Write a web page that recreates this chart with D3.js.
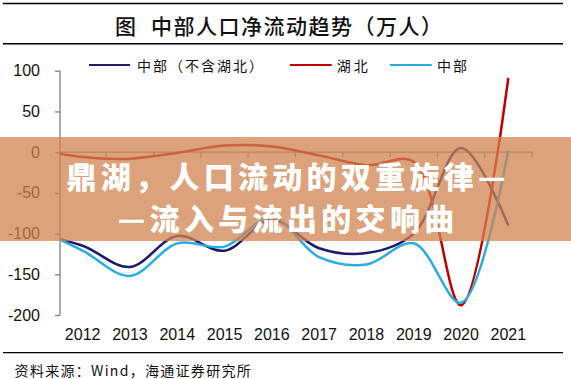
<!DOCTYPE html>
<html>
<head>
<meta charset="utf-8">
<script src="https://cdn.jsdelivr.net/npm/d3@7"></script>
<style>
  html, body { margin: 0; padding: 0; background: #fff; }
  svg { display: block; }
</style>
</head>
<body>
<svg id="chart" width="571" height="379"></svg>
<script>
// ---- data ----
const years = [2011, 2012, 2013, 2014, 2015, 2016, 2017, 2018, 2019, 2020, 2021];
const categories = ["2012", "2013", "2014", "2015", "2016", "2017", "2018", "2019", "2020", "2021"];
const centralExHubei = [-100, -115, -141, -103, -121, -83, -118, -124, -100, 5, -90];
const hubei = [4, -6, -8, -1, 8, 7, -4, -16, -12, -188, 91];
const central = [-93, -121, -152, -112, -116, -80, -129, -138, -112, -185, 2];
const yTicks = [100, 50, 0, -50, -100, -150, -200];
const seriesNames = ["中部（不含湖北）", "湖北", "中部"];
const seriesColors = ["#1b1a6e", "#c00000", "#2aace2"];
const titleMark = "图";
const titleText = "中部人口净流动趋势（万人）";
const sourceText = "资料来源：Wind，海通证券研究所";
const bannerLines = ["鼎湖，人口流动的双重旋律—", "—流入与流出的交响曲"];

const svg = d3.select("#chart");
const numFont = "'Liberation Sans', Arial, sans-serif";
const cjkFont = "'Noto Sans CJK SC', 'Noto Sans', sans-serif";

// ---- scales ----
const band = d3.scaleBand().domain(categories).range([59, 532]).paddingInner(0).paddingOuter(0);
const x = d3.scaleLinear().domain([2011.5, 2021.5]).range([59, 532]);
const y = d3.scaleLinear().domain([-200, 100]).range([315, 70.7]);

// ---- title ----
svg.append("line").attr("x1", 3).attr("x2", 563).attr("y1", 3.6).attr("y2", 3.6)
  .attr("stroke", "#000").attr("stroke-width", 1.5);
svg.append("line").attr("x1", 3).attr("x2", 563).attr("y1", 43.7).attr("y2", 43.7)
  .attr("stroke", "#000").attr("stroke-width", 1.5);
svg.append("text").attr("x", 115).attr("y", 24.6).attr("dominant-baseline", "central")
  .attr("font-family", cjkFont).attr("font-weight", 500).attr("font-size", 21).attr("fill", "#111").text(titleMark);
svg.append("text").attr("x", 151).attr("y", 24.6).attr("dominant-baseline", "central")
  .attr("font-family", cjkFont).attr("font-weight", 500).attr("font-size", 21).attr("fill", "#111")
  .attr("textLength", 291).attr("lengthAdjust", "spacing").text(titleText);

// ---- legend ----
const legendItems = [
  { lx1: 89, lx2: 130, tx: 137, tl: 126 },
  { lx1: 290, lx2: 331.7, tx: 336.7, tl: 31 },
  { lx1: 390, lx2: 431.7, tx: 437, tl: 30 }
];
legendItems.forEach((li, i) => {
  svg.append("line").attr("x1", li.lx1).attr("x2", li.lx2).attr("y1", 65).attr("y2", 65)
    .attr("stroke", seriesColors[i]).attr("stroke-width", 2);
  svg.append("text").attr("x", li.tx).attr("y", 65).attr("dominant-baseline", "central")
    .attr("font-family", cjkFont).attr("font-size", 14).attr("fill", "#111")
    .attr("textLength", li.tl).attr("lengthAdjust", "spacing").text(seriesNames[i]);
});

// ---- y axis ----
const yAxis = svg.append("g").attr("transform", "translate(60,0)")
  .call(d3.axisLeft(y).tickValues(yTicks).tickSize(5).tickPadding(15).tickFormat(d3.format("d")));
yAxis.select(".domain").attr("stroke", "#808080").attr("stroke-width", 1.3).attr("d", `M0,${y(100)}V${y(-200)}`);
yAxis.selectAll(".tick line").attr("stroke", "#808080").attr("stroke-width", 1.3);
yAxis.selectAll(".tick text").attr("font-family", numFont).attr("font-size", 16).attr("fill", "#111")
  .text(d => d < 0 ? "-" + Math.abs(d) : d);

// ---- x axis (at y = 0) ----
const xAxisG = svg.append("g").attr("transform", `translate(0,${y(0)})`);
xAxisG.append("line").attr("x1", 59).attr("x2", 533).attr("y1", 0).attr("y2", 0)
  .attr("stroke", "#808080").attr("stroke-width", 1.3);
const boundaries = categories.map(c => band(c)).concat([band(categories[categories.length - 1]) + band.bandwidth()]);
xAxisG.selectAll("line.tk").data(boundaries.slice(1)).join("line").attr("class", "tk")
  .attr("x1", d => d).attr("x2", d => d).attr("y1", 0).attr("y2", 5)
  .attr("stroke", "#808080").attr("stroke-width", 1.3);

// x labels at bottom
svg.append("g").selectAll("text").data(categories).join("text")
  .attr("x", d => band(d) + band.bandwidth() / 2).attr("y", 334)
  .attr("text-anchor", "middle").attr("dominant-baseline", "central")
  .attr("font-family", numFont).attr("font-size", 16).attr("fill", "#111").text(d => d);

// ---- lines ----
svg.append("clipPath").attr("id", "plotclip").append("rect")
  .attr("x", 60).attr("y", 40).attr("width", 511).attr("height", 300);
const lineGen = d3.line().x(d => x(d[0])).y(d => y(d[1])).curve(d3.curveCatmullRom.alpha(0.5));
const allSeries = [centralExHubei, hubei, central];
const lg = svg.append("g").attr("clip-path", "url(#plotclip)");
allSeries.forEach((vals, i) => {
  lg.append("path").datum(years.map((yr, j) => [yr, vals[j]]))
    .attr("d", lineGen).attr("fill", "none")
    .attr("stroke", seriesColors[i]).attr("stroke-width", 2.5).attr("stroke-linejoin", "round");
});

// ---- source ----
svg.append("line").attr("x1", 3).attr("x2", 563).attr("y1", 352.7).attr("y2", 352.7)
  .attr("stroke", "#000").attr("stroke-width", 1.2);
svg.append("text").attr("x", 14.6).attr("y", 369.5).attr("dominant-baseline", "central")
  .attr("font-family", cjkFont).attr("font-size", 14).attr("fill", "#111")
  .attr("letter-spacing", 1.3).text(sourceText);

// ---- banner overlay ----
svg.append("rect").attr("x", 0).attr("y", 137).attr("width", 571).attr("height", 104)
  .attr("fill", "rgb(208,131,80)").attr("fill-opacity", 0.75);
const bannerY = [175.3, 216.5];
const bannerLen = [439, 336.5];
bannerLines.forEach((t, i) => {
  svg.append("text").attr("x", 286).attr("y", bannerY[i])
    .attr("text-anchor", "middle").attr("dominant-baseline", "central")
    .attr("font-family", cjkFont).attr("font-weight", 900).attr("font-size", 30)
    .attr("fill", "#fff").attr("textLength", bannerLen[i]).attr("lengthAdjust", "spacing").text(t);
});
</script>
</body>
</html>
